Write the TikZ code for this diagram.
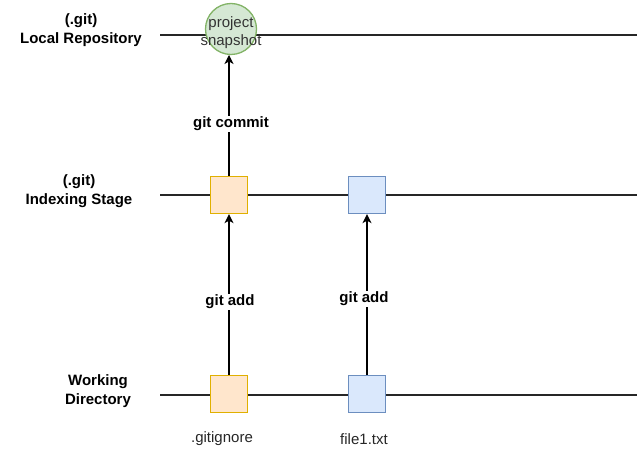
\documentclass[tikz,border=0pt]{standalone}
\usepackage{fontspec}
\setmainfont{Liberation Sans}
\usetikzlibrary{arrows.meta}
\definecolor{orfill}{HTML}{FFE6CC}
\definecolor{ordraw}{HTML}{E0B000}
\definecolor{blfill}{HTML}{DAE8FC}
\definecolor{bldraw}{HTML}{6C8EBF}
\definecolor{grfill}{HTML}{D5E8D4}
\definecolor{grdraw}{HTML}{82B366}
\begin{document}
\begin{tikzpicture}[x=1pt,y=-1pt,
  lane/.style={line width=1.3pt,draw=black!85},
  filebox/.style={draw,line width=1.3pt,minimum width=37pt,minimum height=37pt,inner sep=0pt},
  orbox/.style={filebox,fill=orfill,draw=ordraw},
  blbox/.style={filebox,fill=blfill,draw=bldraw},
  lanelabel/.style={font=\fontsize{15}{19}\selectfont\bfseries,align=center},
  cmd/.style={font=\fontsize{15}{18}\selectfont\bfseries,fill=white,inner sep=1pt},
  fname/.style={font=\fontsize{15}{18}\selectfont,text=black!85},
  arr/.style={line width=1.3pt,-{Stealth[length=9pt,width=9pt,inset=2.5pt]}}
]
\useasboundingbox (0,0) rectangle (637,462);
% lanes
\coordinate (l1a) at (160,35); \coordinate (l1b) at (637,35);
\coordinate (l2a) at (160,195); \coordinate (l2b) at (637,195);
\coordinate (l3a) at (160,395); \coordinate (l3b) at (637,395);
\draw[lane] (l1a) -- (l1b);
\draw[lane] (l2a) -- (l2b);
\draw[lane] (l3a) -- (l3b);
% lane labels
\node[lanelabel] (lr) at (81,30) {(.git)\\Local Repository};
\node[lanelabel] (is) at (79,191) {(.git)\\Indexing Stage};
\node[lanelabel] (wd) at (98,391) {Working\\Directory};
% boxes
\node[orbox] (oi) at (229,195) {};
\node[blbox] (bi) at (367,195) {};
\node[orbox] (ow) at (229,394) {};
\node[blbox] (bw) at (367,394) {};
\node[circle,draw=grdraw,fill=grfill,line width=1.3pt,minimum size=51pt,inner sep=0pt] (snap) at (231,29) {};
\node[align=center,font=\fontsize{15}{18}\selectfont,text=black!80] (snapt) at (231,33) {project\\snapshot};
% arrows
\draw[arr] (oi.north) -- (229,55);
\draw[arr] (ow.north) -- (oi.south);
\draw[arr] (bw.north) -- (bi.south);
% commands
\node[cmd] (gc) at (231,124) {git commit};
\node[cmd] (ga1) at (230,302) {git add};
\node[cmd] (ga2) at (364,299) {git add};
% file names
\node[fname] (gi) at (222,439) {.gitignore};
\node[fname] (f1) at (364,439) {file1.txt};
\end{tikzpicture}
\end{document}
